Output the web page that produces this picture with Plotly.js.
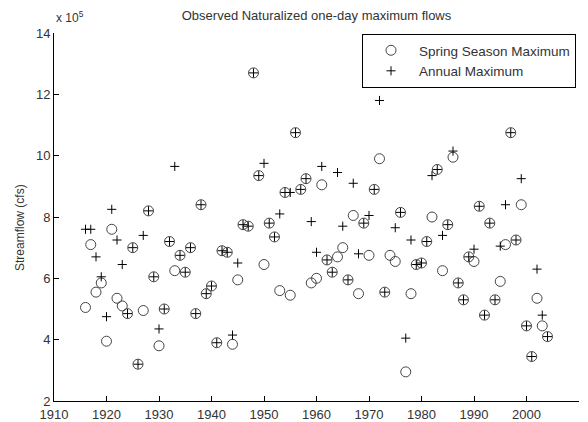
<!DOCTYPE html>
<html>
<head>
<meta charset="utf-8">
<script src="https://cdn.plot.ly/plotly-3.0.1.min.js"></script>
<style>
  html, body { margin: 0; padding: 0; background: #fff; }
  #chart { width: 588px; height: 422px; }
</style>
</head>
<body>
<div id="chart"></div>
<script>
// Water years of record
const years = [
  1916, 1917, 1918, 1919, 1920, 1921, 1922, 1923, 1924, 1925,
  1926, 1927, 1928, 1929, 1930, 1931, 1932, 1933, 1934, 1935,
  1936, 1937, 1938, 1939, 1940, 1941, 1942, 1943, 1944, 1945,
  1946, 1947, 1948, 1949, 1950, 1951, 1952, 1953, 1954, 1955,
  1956, 1957, 1958, 1959, 1960, 1961, 1962, 1963, 1964, 1965,
  1966, 1967, 1968, 1969, 1970, 1971, 1972, 1973, 1974, 1975,
  1976, 1977, 1978, 1979, 1980, 1981, 1982, 1983, 1984, 1985,
  1986, 1987, 1988, 1989, 1990, 1991, 1992, 1993, 1994, 1995,
  1996, 1997, 1998, 1999, 2000, 2001, 2002, 2003, 2004
];

// Spring season maximum one-day flow (x 10^5 cfs)
const springMax = [
  5.05, 7.10, 5.55, 5.85, 3.95, 7.60, 5.35, 5.10, 4.85, 7.00,
  3.20, 4.95, 8.20, 6.05, 3.80, 5.00, 7.20, 6.25, 6.75, 6.20,
  7.00, 4.85, 8.40, 5.50, 5.75, 3.90, 6.90, 6.85, 3.85, 5.95,
  7.75, 7.70, 12.70, 9.35, 6.45, 7.80, 7.35, 5.60, 8.80, 5.45,
  10.75, 8.90, 9.25, 5.85, 6.00, 9.05, 6.60, 6.20, 6.70, 7.00,
  5.95, 8.05, 5.50, 7.80, 6.75, 8.90, 9.90, 5.55, 6.75, 6.55,
  8.15, 2.95, 5.50, 6.45, 6.50, 7.20, 8.00, 9.55, 6.25, 7.75,
  9.95, 5.85, 5.30, 6.70, 6.55, 8.35, 4.80, 7.80, 5.30, 5.90,
  7.10, 10.75, 7.25, 8.40, 4.45, 3.45, 5.35, 4.45, 4.10
];

// Annual maximum one-day flow (x 10^5 cfs)
const annualMax = [
  7.60, 7.60, 6.70, 6.05, 4.75, 8.25, 7.25, 6.45, 4.85, 7.00,
  3.20, 7.40, 8.20, 6.05, 4.35, 5.00, 7.20, 9.65, 6.75, 6.20,
  7.00, 4.85, 8.40, 5.50, 5.75, 3.90, 6.90, 6.85, 4.15, 6.50,
  7.75, 7.70, 12.70, 9.35, 9.75, 7.80, 7.35, 8.10, 8.80, 8.80,
  10.75, 8.90, 9.25, 7.85, 6.85, 9.65, 6.60, 6.20, 9.45, 7.70,
  5.95, 9.10, 6.80, 7.80, 8.05, 8.90, 11.80, 5.55, 12.60, 7.65,
  8.15, 4.05, 7.25, 6.45, 6.50, 7.20, 9.35, 9.55, 7.40, 7.75,
  10.15, 5.85, 5.30, 6.70, 6.95, 8.35, 4.80, 7.80, 5.30, 7.05,
  8.40, 10.75, 7.25, 9.25, 4.45, 3.45, 6.30, 4.80, 4.10
];

const xTicks = [1910, 1920, 1930, 1940, 1950, 1960, 1970, 1980, 1990, 2000, 2010];
const yTicks = [2, 4, 6, 8, 10, 12, 14];

const FONT = 'Liberation Sans, Arial, Helvetica, sans-serif';
const TEXT = '#333333';

const traces = [
  {
    name: 'Spring Season Maximum',
    x: years,
    y: springMax,
    type: 'scatter',
    mode: 'markers',
    marker: {
      symbol: 'circle-open',
      size: 10,
      color: '#444444',
      line: { width: 1, color: '#444444' }
    },
    hoverinfo: 'skip'
  },
  {
    name: 'Annual Maximum',
    x: years,
    y: annualMax,
    type: 'scatter',
    mode: 'markers',
    marker: {
      symbol: 'cross-thin-open',
      size: 6.5,
      color: '#000000',
      line: { width: 1, color: '#000000' }
    },
    hoverinfo: 'skip'
  }
];

const axisCommon = {
  showline: true,
  linecolor: '#000000',
  linewidth: 1,
  mirror: false,
  showgrid: false,
  zeroline: false,
  ticks: 'inside',
  ticklen: 5,
  tickwidth: 1,
  tickcolor: '#000000',
  tickfont: { family: FONT, size: 13, color: TEXT },
  automargin: false,
  fixedrange: true
};

const layout = {
  width: 588,
  height: 422,
  margin: { l: 54, r: 9, t: 33, b: 21, pad: 0 },
  paper_bgcolor: '#ffffff',
  plot_bgcolor: '#ffffff',
  font: { family: FONT, size: 13, color: TEXT },
  title: {
    text: 'Observed Naturalized one-day maximum flows',
    font: { family: FONT, size: 13, color: TEXT },
    xref: 'paper',
    x: 0.5,
    xanchor: 'center',
    yref: 'container',
    y: 1 - 15 / 422,
    yanchor: 'middle'
  },
  xaxis: Object.assign({}, axisCommon, {
    range: [xTicks[0], xTicks[xTicks.length - 1]],
    tickmode: 'array',
    tickvals: xTicks,
    ticktext: xTicks.map(String),
    ticklabelstandoff: 1
  }),
  yaxis: Object.assign({}, axisCommon, {
    range: [yTicks[0], yTicks[yTicks.length - 1]],
    tickmode: 'array',
    tickvals: yTicks,
    ticktext: yTicks.map(String)
  }),
  showlegend: true,
  legend: {
    x: (362 - 54) / 525,
    y: 1 - 1 / 368,
    xanchor: 'left',
    yanchor: 'top',
    bgcolor: '#ffffff',
    bordercolor: '#000000',
    borderwidth: 1,
    font: { family: FONT, size: 13.5, color: TEXT },
    itemwidth: 46,
    tracegroupgap: 0
  },
  annotations: [
    {
      // exponent label for the y axis
      text: 'x 10<sup>5</sup>',
      xref: 'paper', yref: 'paper',
      x: 0, y: 1 + 16 / 368,
      xanchor: 'left', yanchor: 'middle',
      showarrow: false,
      font: { family: FONT, size: 12, color: TEXT }
    },
    {
      text: 'Streamflow (cfs)',
      textangle: -90,
      xref: 'paper', yref: 'paper',
      x: (20 - 54) / 525, y: 1 - (228 - 33) / 368,
      xanchor: 'center', yanchor: 'middle',
      showarrow: false,
      font: { family: FONT, size: 12, color: TEXT }
    }
  ]
};

Plotly.newPlot('chart', traces, layout, { displayModeBar: false, staticPlot: true });
</script>
</body>
</html>
